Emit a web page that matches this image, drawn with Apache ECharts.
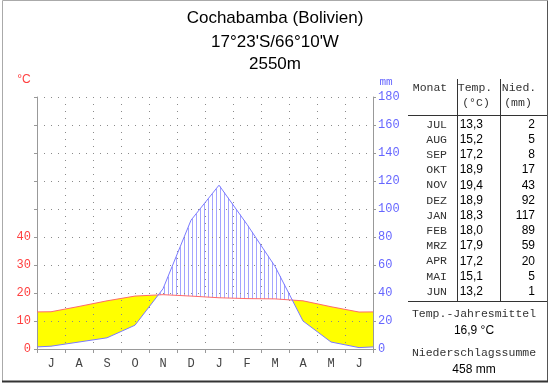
<!DOCTYPE html>
<html><head><meta charset="utf-8">
<script src="https://cdn.jsdelivr.net/npm/echarts@6/dist/echarts.min.js"></script>
<style>html,body{margin:0;padding:0;background:#fff}#c{width:550px;height:384px}</style>
</head><body><div id="c"></div>
<script>
const months = ['J','A','S','O','N','D','J','F','M','A','M','J'];
const tableMonths = ['JUL','AUG','SEP','OKT','NOV','DEZ','JAN','FEB','MRZ','APR','MAI','JUN'];
const temps = [13.3,15.2,17.2,18.9,19.4,18.9,18.3,18.0,17.9,17.2,15.1,13.2];
const precip = [2,5,8,17,43,92,117,89,59,20,5,1];
const edgeTemp = [13.25, 13.25];   // read at left / right plot edge
const edgePrecip = [1.5, 1.5];      // read at left / right plot edge
const tempLabels = [0,10,20,30,40];
const titleLines = ['Cochabamba (Bolivien)', "17°23'S/66°10'W", '2550m'];
const annualTempText = '16,9 °C';
const annualPrecipText = '458 mm';

const MONO = '"Liberation Mono", "Courier New", monospace';
const SANS = '"Liberation Sans", Arial, sans-serif';

const tempData = [[0, edgeTemp[0]]].concat(temps.map((v,i)=>[i+0.5, v]), [[12, edgeTemp[1]]]);
const precData = [[0, edgePrecip[0]]].concat(precip.map((v,i)=>[i+0.5, v]), [[12, edgePrecip[1]]]);

function renderFills(params, api) {
  const xs = tempData.map(d=>d[0]);
  const T = tempData.map(d=>d[1]*2);
  const P = precData.map(d=>d[1]);
  const X=[], TT=[], PP=[];
  for (let i=0;i<xs.length;i++){
    if (i>0){
      const d0=T[i-1]-P[i-1], d1=T[i]-P[i];
      if (d0*d1<0){
        const f=d0/(d0-d1);
        const xc=xs[i-1]+f*(xs[i]-xs[i-1]);
        const yc=T[i-1]+f*(T[i]-T[i-1]);
        X.push(xc); TT.push(yc); PP.push(yc);
      }
    }
    X.push(xs[i]); TT.push(T[i]); PP.push(P[i]);
  }
  const children=[];
  let segs=[];
  for (let j=0;j<X.length-1;j++){
    const arid = (TT[j]-PP[j])+(TT[j+1]-PP[j+1]) > 0;
    if (segs.length && segs[segs.length-1].arid===arid) segs[segs.length-1].b=j+1;
    else segs.push({arid, a:j, b:j+1});
  }
  segs.forEach(s=>{
    if (s.arid){
      const pts=[];
      for (let k=s.a;k<=s.b;k++) pts.push(api.coord([X[k],TT[k]]));
      for (let k=s.b;k>=s.a;k--) pts.push(api.coord([X[k],PP[k]]));
      children.push({type:'polygon', shape:{points:pts}, style:{fill:'#ffff00', stroke:null}});
    } else {
      const pT=[], pP=[];
      for (let k=s.a;k<=s.b;k++){ pT.push(api.coord([X[k],TT[k]])); pP.push(api.coord([X[k],PP[k]])); }
      const x0=pT[0][0], x1=pT[pT.length-1][0];
      const interp=(arr,px)=>{
        for (let m=0;m<arr.length-1;m++){
          if (px>=arr[m][0] && px<=arr[m+1][0]){
            const f=(px-arr[m][0])/((arr[m+1][0]-arr[m][0])||1);
            return arr[m][1]+f*(arr[m+1][1]-arr[m][1]);
          }
        }
        return arr[arr.length-1][1];
      };
      for (let px=40; px<x1; px+=4){
        if (px<=x0) continue;
        const yTop=interp(pP,px), yBot=interp(pT,px);
        if (yBot-yTop>0.5)
          children.push({type:'line', shape:{x1:px+0.5,y1:yTop,x2:px+0.5,y2:yBot}, style:{stroke:'#a4a4ff', lineWidth:1}});
      }
    }
  });
  return {type:'group', children};
}

const gfx = [];
gfx.push({type:'line', shape:{x1:2.5,y1:0.5,x2:547.5,y2:0.5}, style:{stroke:'#aaa',lineWidth:1}});
gfx.push({type:'line', shape:{x1:2.5,y1:0.5,x2:2.5,y2:381.5}, style:{stroke:'#aaa',lineWidth:1}});
gfx.push({type:'line', shape:{x1:547.5,y1:0.5,x2:547.5,y2:381.5}, style:{stroke:'#555',lineWidth:1}});
gfx.push({type:'line', shape:{x1:2,y1:381.5,x2:548,y2:381.5}, style:{stroke:'#333',lineWidth:2}});
[18,42,64].forEach((y,i)=>gfx.push({type:'text', x:275, y:y, style:{text:titleLines[i], font:'17px '+SANS, fill:'#000', textAlign:'center', textVerticalAlign:'middle'}}));
gfx.push({type:'text', x:24, y:80, style:{text:'°C', font:'12px '+SANS, fill:'#ff4040', textAlign:'center', textVerticalAlign:'middle'}});
gfx.push({type:'text', x:386, y:82, style:{text:'mm', font:'11px '+MONO, fill:'#6666ff', textAlign:'center', textVerticalAlign:'middle'}});
const tl = {stroke:'#333', lineWidth:1};
gfx.push({type:'line', shape:{x1:457.5,y1:79,x2:457.5,y2:301}, style:tl});
gfx.push({type:'line', shape:{x1:500.5,y1:79,x2:500.5,y2:301}, style:tl});
gfx.push({type:'line', shape:{x1:408,y1:115.5,x2:547,y2:115.5}, style:tl});
gfx.push({type:'line', shape:{x1:408,y1:301.5,x2:547,y2:301.5}, style:tl});
const hdr = (t,x,y)=>gfx.push({type:'text', x, y, style:{text:t, font:'11.5px '+MONO, fill:'#333', textAlign:'center', textVerticalAlign:'middle'}});
hdr('Monat',430,88); hdr('Temp.',475,88); hdr('Nied.',519,88);
hdr('(°C)',476,103); hdr('(mm)',518,103);
tableMonths.forEach((m,i)=>{
  const y = 124.5 + i*15.2;
  gfx.push({type:'text', x:447, y, style:{text:m, font:'11.5px '+MONO, fill:'#333', textAlign:'right', textVerticalAlign:'middle'}});
  gfx.push({type:'text', x:483, y, style:{text:temps[i].toFixed(1).replace('.',','), font:'12px '+SANS, fill:'#000', textAlign:'right', textVerticalAlign:'middle'}});
  gfx.push({type:'text', x:535, y, style:{text:String(precip[i]), font:'12px '+SANS, fill:'#000', textAlign:'right', textVerticalAlign:'middle'}});
});
hdr('Temp.-Jahresmittel',474,314);
gfx.push({type:'text', x:474, y:331, style:{text:annualTempText, font:'12px '+SANS, fill:'#000', textAlign:'center', textVerticalAlign:'middle'}});
hdr('Niederschlagssumme',474,353);
gfx.push({type:'text', x:474, y:370, style:{text:annualPrecipText, font:'12px '+SANS, fill:'#000', textAlign:'center', textVerticalAlign:'middle'}});

const dotted = {color:'#8a8a8a', type:[1,6], width:1};
const option = {
  animation:false,
  backgroundColor:'#fff',
  grid:{left:37, right:177, top:97, bottom:35, containLabel:false},
  xAxis:[
    {type:'category', data:months, boundaryGap:true,
     axisLine:{show:true, lineStyle:{color:'#999'}},
     axisTick:{show:true, length:4, lineStyle:{color:'#999'}},
     axisLabel:{color:'#444', fontFamily:MONO, fontSize:12, margin:9},
     splitLine:{show:true, lineStyle:dotted}},
    {type:'value', min:0, max:12, show:false}
  ],
  yAxis:[
    {type:'value', min:0, max:90, interval:10, position:'left',
     axisLine:{show:true, lineStyle:{color:'#999'}},
     axisTick:{show:true, length:3, lineStyle:{color:'#999'}},
     axisLabel:{color:'#ff4040', fontFamily:MONO, fontSize:12, margin:6,
       formatter:v=>tempLabels.indexOf(v)>=0?String(v):''},
     splitLine:{show:true, lineStyle:dotted}},
    {type:'value', min:0, max:180, interval:20, position:'right',
     axisLine:{show:true, lineStyle:{color:'#999'}},
     axisTick:{show:true, length:3, lineStyle:{color:'#999'}},
     axisLabel:{color:'#6666ff', fontFamily:MONO, fontSize:12, margin:5},
     splitLine:{show:false}}
  ],
  series:[
    {type:'custom', xAxisIndex:1, yAxisIndex:1, z:-1, data:[[0,0]], renderItem:renderFills, silent:true},
    {type:'line', xAxisIndex:1, yAxisIndex:0, data:tempData, symbol:'none', lineStyle:{color:'#ff6a6a', width:1}, z:3},
    {type:'line', xAxisIndex:1, yAxisIndex:1, data:precData, symbol:'none', lineStyle:{color:'#7a7aff', width:1}, z:3}
  ],
  graphic:gfx
};
const chart = echarts.init(document.getElementById('c'), null, {renderer:'canvas'});
chart.setOption(option);
</script></body></html>
